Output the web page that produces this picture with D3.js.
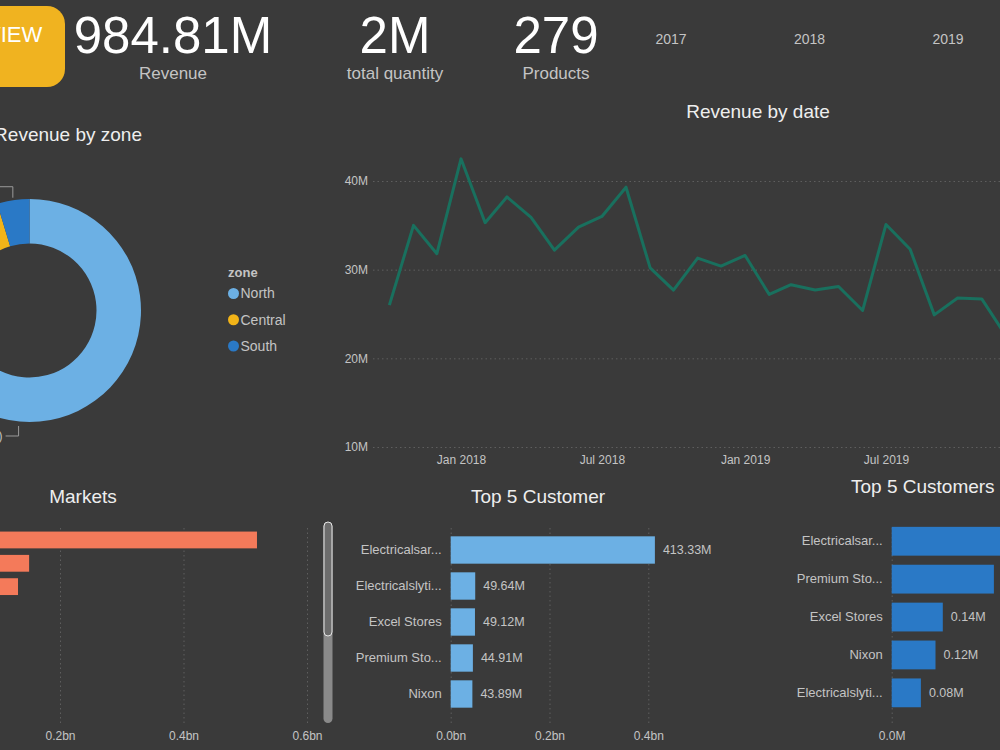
<!DOCTYPE html>
<html lang="en">
  <head>
    <meta charset="utf-8" />
    <title>Sales Insights</title>
    <style>
      body { margin: 0; background: #3a3a3a; overflow: hidden; }
      svg { display: block; font-family: "Liberation Sans", Arial, sans-serif; }
    </style>
  </head>
  <body>
    <div id="dashboard"></div>

    <script src="https://d3js.org/d3.v7.min.js"></script>
    <script>
      // KPI cards + year slicer
      const kpiValues = ["984.81M", "2M", "279"];
      const kpiLabels = ["Revenue", "total quantity", "Products"];
      const slicerYears = ["2017", "2018", "2019"];

      // Revenue by zone
      const zones = ["North", "Central", "South"];
      const zoneRevenue = [675e6, 264e6, 46e6];

      // Revenue by date (monthly)
      const months = [
        "2017-10", "2017-11", "2017-12", "2018-01", "2018-02", "2018-03", "2018-04",
        "2018-05", "2018-06", "2018-07", "2018-08", "2018-09", "2018-10", "2018-11",
        "2018-12", "2019-01", "2019-02", "2019-03", "2019-04", "2019-05", "2019-06",
        "2019-07", "2019-08", "2019-09", "2019-10", "2019-11", "2019-12"
      ];
      const monthRevenue = [
        26.0, 35.0, 31.8, 42.5, 35.3, 38.2, 35.9, 32.2, 34.8, 36.0, 39.3, 30.2, 27.7, 31.3,
        30.4, 31.6, 27.2, 28.3, 27.7, 28.1, 25.4, 35.1, 32.3, 24.9, 26.8, 26.7, 22.7
      ].map((d) => d * 1e6);
      const revenueTicks = [10e6, 20e6, 30e6, 40e6];
      const dateTicks = ["2018-01", "2018-07", "2019-01", "2019-07"];

      // Markets
      const markets = ["Delhi NCR", "Mumbai", "Ahmedabad"];
      const marketRevenue = [519e6, 150e6, 132e6];
      const marketTicks = [0.2e9, 0.4e9, 0.6e9];

      // Top 5 customers by revenue
      const topCustomers = ["Electricalsar...", "Electricalslyti...", "Excel Stores", "Premium Sto...", "Nixon"];
      const topCustomerRevenue = [413.33e6, 49.64e6, 49.12e6, 44.91e6, 43.89e6];
      const topCustomerTicks = [0, 0.2e9, 0.4e9];

      // Top 5 customers by quantity
      const qtyCustomers = ["Electricalsar...", "Premium Sto...", "Excel Stores", "Nixon", "Electricalslyti..."];
      const qtyCustomerValues = [0.40e6, 0.28e6, 0.14e6, 0.12e6, 0.08e6];
      const qtyTicks = [0, 0.5e6];

      const width = 1000, height = 750;
      const bg = "#3a3a3a";
      const titleColor = "#eeeeee";
      const labelColor = "#c4c4c4";
      const gridColor = "#5e5e5e";

      const parseMonth = d3.timeParse("%Y-%m");
      const fmtBn = (d) => `${(d / 1e9).toFixed(1)}bn`;
      const fmtM = (d) => `${(d / 1e6).toFixed(2)}M`;

      const svg = d3
        .select("#dashboard")
        .append("svg")
        .attr("width", width)
        .attr("height", height);

      svg.append("rect").attr("width", width).attr("height", height).attr("fill", bg);

      const title = (text, x, y, anchor = "middle") =>
        svg
          .append("text")
          .attr("x", x)
          .attr("y", y)
          .attr("text-anchor", anchor)
          .attr("fill", titleColor)
          .style("font-size", "19px")
          .text(text);

      // ---- header: button, cards, slicer
      svg
        .append("rect")
        .attr("x", -60)
        .attr("y", 6)
        .attr("width", 125)
        .attr("height", 81)
        .attr("rx", 18)
        .attr("fill", "#f0b320");
      svg
        .append("text")
        .attr("x", -14)
        .attr("y", 42)
        .attr("fill", "#ffffff")
        .style("font-size", "22px")
        .text("VIEW");

      const kpiX = [173, 395, 556];
      kpiValues.forEach((v, i) => {
        svg
          .append("text")
          .attr("x", kpiX[i])
          .attr("y", 53)
          .attr("text-anchor", "middle")
          .attr("fill", "#ffffff")
          .style("font-size", "51px")
          .text(v);
        svg
          .append("text")
          .attr("x", kpiX[i])
          .attr("y", 79)
          .attr("text-anchor", "middle")
          .attr("fill", labelColor)
          .style("font-size", "17px")
          .text(kpiLabels[i]);
      });

      const yearScale = d3.scalePoint().domain(slicerYears).range([671, 948]);
      svg
        .selectAll(".year")
        .data(slicerYears)
        .enter()
        .append("text")
        .attr("x", (d) => yearScale(d))
        .attr("y", 44)
        .attr("text-anchor", "middle")
        .attr("fill", labelColor)
        .style("font-size", "14px")
        .text((d) => d);

      // ---- donut: revenue by zone
      title("Revenue by zone", 142, 141, "end");

      const zoneColor = d3.scaleOrdinal().domain(zones).range(["#6cb0e4", "#f2b418", "#2a79c6"]);
      const rOuter = 111.5, rInner = 67;
      const pie = d3.pie().sort(null).value((d, i) => zoneRevenue[i]);
      const arcs = pie(zones);
      const arc = d3.arc().innerRadius(rInner).outerRadius(rOuter);
      const donut = svg.append("g").attr("transform", "translate(29.5,310.5)");

      donut
        .selectAll("path")
        .data(arcs)
        .enter()
        .append("path")
        .attr("d", arc)
        .attr("fill", (d) => zoneColor(d.data));

      // data label leaders (South at slice middle, North placed at bottom);
      // only the North label reaches into the frame
      const total = d3.sum(zoneRevenue);
      const polar = (a, r) => [Math.sin(a) * r, -Math.cos(a) * r];
      const southArc = arcs[2];
      const leaders = [
        { a: (southArc.startAngle + southArc.endAngle) / 2, r: 114, up: true, i: 2, label: false },
        { a: Math.PI * 1.03, r: 116, up: false, i: 0, label: true }
      ];
      leaders.forEach((l) => {
        const [sx, sy] = polar(l.a, l.r);
        const ey = sy + (l.up ? -11 : 10);
        donut
          .append("path")
          .attr("d", `M${sx},${sy}V${ey}H${sx - 13}`)
          .attr("fill", "none")
          .attr("stroke", "#9a9a9a")
          .attr("stroke-width", 1);
        if (!l.label) return;
        donut
          .append("text")
          .attr("x", sx - 16)
          .attr("y", ey)
          .attr("dy", "0.35em")
          .attr("text-anchor", "end")
          .attr("fill", labelColor)
          .style("font-size", "12px")
          .text(`${fmtM(zoneRevenue[l.i])} (${((zoneRevenue[l.i] / total) * 100).toFixed(2)}%)`);
      });

      const legend = svg.append("g").attr("transform", "translate(228,0)");
      legend
        .append("text")
        .attr("y", 277)
        .attr("fill", labelColor)
        .style("font-size", "13px")
        .style("font-weight", "bold")
        .text("zone");
      const legendY = d3.scalePoint().domain(zones).range([293.5, 346]);
      const item = legend
        .selectAll(".item")
        .data(zones)
        .enter()
        .append("g")
        .attr("transform", (d) => `translate(0,${legendY(d)})`);
      item.append("circle").attr("cx", 5.5).attr("r", 5.5).attr("fill", (d) => zoneColor(d));
      item
        .append("text")
        .attr("x", 12.5)
        .attr("dy", "0.35em")
        .attr("fill", labelColor)
        .style("font-size", "14px")
        .text((d) => d);

      // ---- line: revenue by date
      title("Revenue by date", 758, 118);

      const xTime = d3
        .scaleTime()
        .domain([parseMonth("2018-01"), parseMonth("2019-07")])
        .range([461, 886]);
      const yRev = d3.scaleLinear().domain([10e6, 40e6]).range([447, 181]);

      const yAxis = svg
        .append("g")
        .attr("transform", "translate(373,0)")
        .call(
          d3
            .axisLeft(yRev)
            .tickValues(revenueTicks)
            .tickSize(-(width - 373))
            .tickPadding(5)
            .tickFormat((d) => `${d / 1e6}M`)
        );
      yAxis.select(".domain").remove();
      yAxis.selectAll("line").attr("stroke", gridColor).attr("stroke-dasharray", "1.5,3");
      yAxis.selectAll("text").attr("fill", labelColor).style("font-size", "12px");

      const xAxis = svg
        .append("g")
        .attr("transform", "translate(0,447)")
        .call(
          d3
            .axisBottom(xTime)
            .tickValues(dateTicks.map(parseMonth))
            .tickSize(0)
            .tickPadding(8)
            .tickFormat(d3.timeFormat("%b %Y"))
        );
      xAxis.select(".domain").remove();
      xAxis.selectAll("text").attr("fill", labelColor).style("font-size", "12px");

      svg
        .append("path")
        .datum(months)
        .attr("fill", "none")
        .attr("stroke", "#19705e")
        .attr("stroke-width", 3)
        .attr("stroke-linejoin", "round")
        .attr(
          "d",
          d3
            .line()
            .x((d) => xTime(parseMonth(d)))
            .y((d, i) => yRev(monthRevenue[i]))
        );

      // ---- horizontal bar charts
      const barChart = (o) => {
        const y = d3.scaleBand().domain(o.cats).range(o.band).paddingInner(o.pad).paddingOuter(o.pad / 2);
        const g = svg.append("g");

        const ax = g
          .append("g")
          .attr("transform", "translate(0,723)")
          .call(
            d3
              .axisBottom(o.x)
              .tickValues(o.ticks)
              .tickSize(-(723 - 525))
              .tickPadding(8)
              .tickFormat(o.tickFmt)
          );
        ax.select(".domain").remove();
        ax.selectAll("line").attr("stroke", gridColor).attr("stroke-dasharray", "1.5,3");
        ax.selectAll("text").attr("fill", labelColor).style("font-size", "12px");

        if (o.showCats) {
          const cy = g
            .append("g")
            .attr("transform", `translate(${o.x(0)},0)`)
            .call(d3.axisLeft(y).tickSize(0).tickPadding(9));
          cy.select(".domain").remove();
          cy.selectAll("text").attr("fill", labelColor).style("font-size", "13px");
        }

        g.selectAll(".bar")
          .data(o.cats)
          .enter()
          .append("rect")
          .attr("x", o.x(0))
          .attr("y", (d) => y(d))
          .attr("width", (d, i) => o.x(o.vals[i]) - o.x(0))
          .attr("height", y.bandwidth())
          .attr("fill", o.color);

        if (o.valFmt) {
          g.selectAll(".val")
            .data(o.cats)
            .enter()
            .append("text")
            .attr("x", (d, i) => o.x(o.vals[i]) + 8)
            .attr("y", (d) => y(d) + y.bandwidth() / 2)
            .attr("dy", "0.35em")
            .attr("fill", labelColor)
            .style("font-size", "12.5px")
            .text((d, i) => o.valFmt(o.vals[i]));
        }
      };

      title("Markets", 83, 503);
      barChart({
        cats: markets,
        vals: marketRevenue,
        color: "#f47a5a",
        band: [528.3, 598.3],
        pad: 0.28,
        x: d3.scaleLinear().domain([0, 0.6e9]).range([-63.5, 307]),
        ticks: marketTicks,
        tickFmt: fmtBn,
        showCats: false
      });

      // scroll bar of the markets visual
      svg
        .append("rect")
        .attr("x", 323.5)
        .attr("y", 522)
        .attr("width", 9)
        .attr("height", 201)
        .attr("rx", 4.5)
        .attr("fill", "#8a8a8a");
      svg
        .append("rect")
        .attr("x", 324)
        .attr("y", 522)
        .attr("width", 8)
        .attr("height", 114)
        .attr("rx", 4)
        .attr("fill", "#6c6c6c")
        .attr("stroke", "#e6e6e6")
        .attr("stroke-width", 1);

      title("Top 5 Customer", 538, 503);
      barChart({
        cats: topCustomers,
        vals: topCustomerRevenue,
        color: "#6cb0e4",
        band: [532, 712],
        pad: 0.24,
        x: d3.scaleLinear().domain([0, 0.4e9]).range([450.7, 648.3]),
        ticks: topCustomerTicks,
        tickFmt: fmtBn,
        showCats: true,
        valFmt: fmtM
      });

      title("Top 5 Customers", 851, 493, "start");
      barChart({
        cats: qtyCustomers,
        vals: qtyCustomerValues,
        color: "#2a79c6",
        band: [522.3, 711.8],
        pad: 0.24,
        x: d3.scaleLinear().domain([0, 1e6]).range([891.7, 1256.7]),
        ticks: qtyTicks,
        tickFmt: (d) => `${(d / 1e6).toFixed(1)}M`,
        showCats: true,
        valFmt: fmtM
      });
    </script>
  </body>
</html>
